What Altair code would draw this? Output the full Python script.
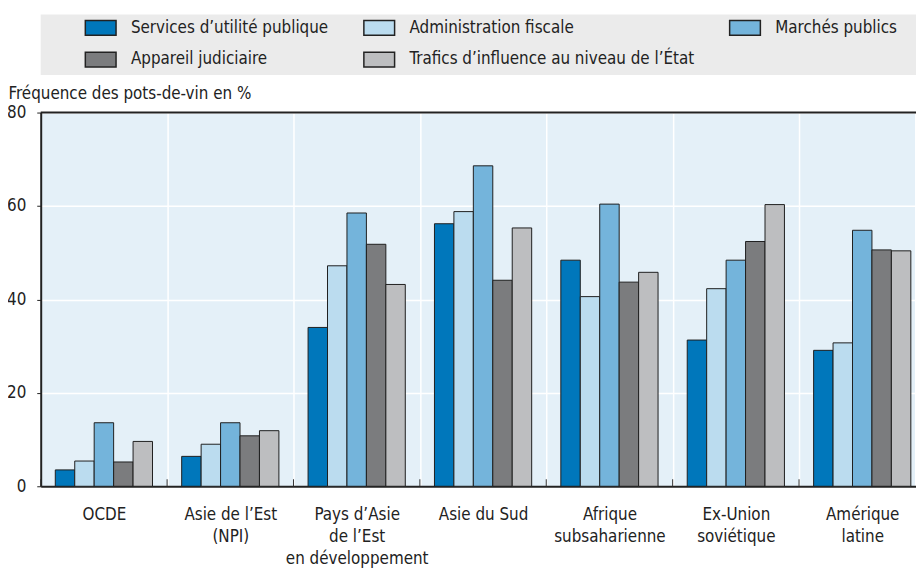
import altair as alt
import pandas as pd

categories = ["OCDE", "Asie de l’Est|(NPI)", "Pays d’Asie|de l’Est|en développement",
              "Asie du Sud", "Afrique|subsaharienne", "Ex-Union|soviétique", "Amérique|latine"]
series = ["Services d’utilité publique", "Administration fiscale", "Marchés publics",
          "Appareil judiciaire", "Trafics d’influence au niveau de l’État"]
colors = ["#0077bb", "#bbdcef", "#74b4db", "#7b7c7e", "#bdbec0"]
# legend order (Vega fills legend columns top-down)
legend_order = [0, 3, 1, 4, 2]

services = [3.5, 6.4, 34.0, 56.2, 48.4, 31.3, 29.1]
fiscale = [5.4, 9.0, 47.2, 58.8, 40.6, 42.3, 30.7]
marches = [13.6, 13.6, 58.5, 68.6, 60.4, 48.4, 54.8]
judiciaire = [5.2, 10.8, 51.8, 44.1, 43.7, 52.4, 50.6]
trafics = [9.6, 11.9, 43.2, 55.3, 45.8, 60.3, 50.4]

y_ticks = [0, 20, 40, 60, 80]

rows = []
for s, vals in zip(series, [services, fiscale, marches, judiciaire, trafics]):
    for c, v in zip(categories, vals):
        rows.append({"cat": c, "serie": s, "val": v})
df = pd.DataFrame(rows)
cat_df = pd.DataFrame({"cat": categories})
one = pd.DataFrame({"a": [0]})

FONT = "'DejaVu Sans Condensed', 'Liberation Sans Narrow', 'Liberation Sans', sans-serif"
W, H = 882, 377

xscale = alt.Scale(domain=categories, range=[0, 892.5], paddingInner=0, paddingOuter=0)
leg_domain = [series[i] for i in legend_order]
leg_range = [colors[i] for i in legend_order]

bg = alt.Chart(one).mark_rect(color="#ebebeb").encode(
    x=alt.value(0), x2=alt.value(900), y=alt.value(-99), y2=alt.value(-38)
)

bars = alt.Chart(df).mark_bar(stroke="#1e1e1e", strokeWidth=1).encode(
    x=alt.X("cat:N", sort=categories, scale=xscale, title=None,
            axis=alt.Axis(labelExpr="split(datum.label, '|')", labelAngle=0,
                          labelFontSize=17, labelColor="#222", labelPadding=21,
                          labelLineHeight=22, ticks=False, tickBand="extent",
                          grid=True, gridColor="white", gridWidth=1.5,
                          domainColor="#222", domainWidth=2, labelBaseline="top")),
    xOffset=alt.XOffset("serie:N", sort=series,
                        scale=alt.Scale(domain=series, paddingInner=0, paddingOuter=0.75)),
    y=alt.Y("val:Q", scale=alt.Scale(domain=[0, 80], nice=False),
            axis=alt.Axis(values=y_ticks, title="Fréquence des pots-de-vin en %",
                          titleAngle=0, titleAlign="left", titleBaseline="middle",
                          titleX=-33, titleY=-19, titleFontSize=17, titleFontWeight="normal",
                          titleColor="#222", labelFontSize=17, labelColor="#222",
                          labelPadding=11, tickSize=4, tickColor="#222",
                          grid=True, gridColor="white", gridWidth=1.5,
                          domainColor="#222", domainWidth=2)),
    color=alt.Color("serie:N", scale=alt.Scale(domain=leg_domain, range=leg_range),
                    legend=alt.Legend(title=None, orient="none", legendX=44, legendY=-102,
                                      columns=3, symbolType="M-1,-0.48H1V0.48H-1Z",
                                      symbolSize=961, symbolStrokeColor="#222",
                                      symbolStrokeWidth=1.5, symbolOpacity=1,
                                      labelFontSize=17, labelColor="#222", labelOffset=14,
                                      columnPadding=32, rowPadding=5, labelLimit=400,
                                      padding=0)),
)

ticks = alt.Chart(cat_df).mark_rule(color="#333", strokeWidth=1).encode(
    x=alt.X("cat:N", sort=categories, scale=xscale, bandPosition=0),
    y=alt.datum(0), y2=alt.datum(1.5)
)

top = alt.Chart(one).mark_rule(color="#222", strokeWidth=2).encode(
    x=alt.value(0), x2=alt.value(900), y=alt.datum(80)
)

chart = alt.layer(bg, bars, ticks, top).properties(
    width=W, height=H,
    autosize=alt.AutoSizeParams(type="none"),
    padding={"left": 33, "top": 103, "right": 1, "bottom": 84},
    background="white",
).configure(font=FONT).configure_view(stroke=None, fill="#e4f0f8")

chart.save("out.html", embed_options={"renderer": "svg", "actions": False})
